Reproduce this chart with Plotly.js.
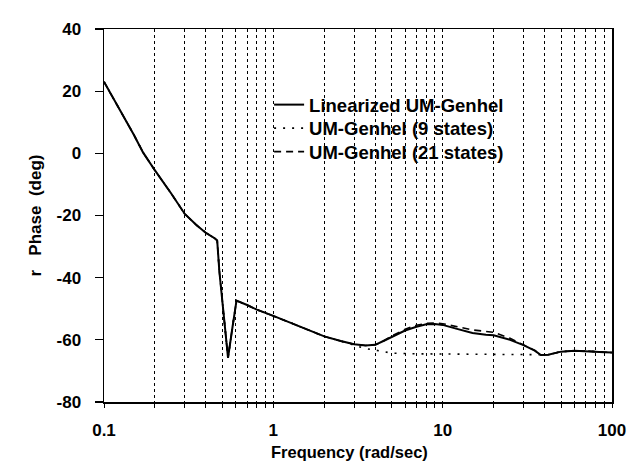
<!DOCTYPE html>
<html>
<head>
<meta charset="utf-8">
<script src="https://cdn.plot.ly/plotly-3.0.1.min.js"></script>
<style>html,body{margin:0;padding:0;background:#fff;}#chart{width:627px;height:462px;}</style>
</head>
<body>
<div id="chart"></div>
<script>
// Linearized UM-Genhel
const freqLin = [0.1, 0.12, 0.15, 0.17, 0.2, 0.25, 0.3, 0.35, 0.4, 0.45, 0.466, 0.48, 0.51, 0.54, 0.57, 0.606, 0.7, 0.8, 1, 1.3, 1.6, 2, 2.5, 3, 3.5, 4, 4.5, 5, 6, 7, 8, 9, 10, 12, 15, 18, 20, 25, 30, 35, 38, 42, 50, 60, 70, 80, 90, 100];
const phaseLin = [23, 15.4, 6, 0.3, -5.5, -13, -19.5, -23, -25.6, -27.3, -28, -38, -52, -65.8, -57, -47.4, -48.8, -50.3, -52.3, -54.8, -56.8, -58.9, -60.4, -61.4, -61.8, -61.6, -60.3, -59, -57, -55.8, -55, -54.9, -55.2, -56.4, -57.8, -58.4, -58.5, -60, -61.7, -63.5, -64.9, -64.8, -63.8, -63.5, -63.6, -63.8, -64, -64.1];

// UM-Genhel (9 states)
const freq9 = [0.1, 0.12, 0.15, 0.17, 0.2, 0.25, 0.3, 0.35, 0.4, 0.45, 0.466, 0.48, 0.51, 0.54, 0.57, 0.606, 0.7, 0.8, 1, 1.3, 1.6, 2, 2.5, 3, 3.5, 4.3, 5, 7, 10, 15, 20, 30, 35, 38, 42, 50, 60, 70, 80, 90, 100];
const phase9 = [23, 15.4, 6, 0.3, -5.5, -13, -19.5, -23, -25.6, -27.3, -28, -38, -52, -65.8, -57, -47.4, -48.8, -50.3, -52.3, -54.8, -56.8, -58.9, -60.4, -61.6, -62.8, -63.6, -64.3, -64.5, -64.6, -64.6, -64.6, -64.7, -64.8, -64.9, -64.8, -63.8, -63.5, -63.6, -63.8, -64, -64.1];

// UM-Genhel (21 states)
const freq21 = [0.1, 0.12, 0.15, 0.17, 0.2, 0.25, 0.3, 0.35, 0.4, 0.45, 0.466, 0.48, 0.51, 0.54, 0.57, 0.606, 0.7, 0.8, 1, 1.3, 1.6, 2, 2.5, 3, 3.5, 4, 4.5, 5, 6, 7, 8, 9, 10, 12, 15, 18, 20, 25, 30, 35, 38, 42, 50, 60, 70, 80, 90, 100];
const phase21 = [23, 15.4, 6, 0.3, -5.5, -13, -19.5, -23, -25.6, -27.3, -28, -38, -52, -65.8, -57, -47.4, -48.8, -50.3, -52.3, -54.8, -56.8, -58.9, -60.4, -61.4, -61.8, -61.6, -60.3, -58.8, -56.6, -55.3, -54.7, -54.6, -54.8, -55.6, -56.8, -57.3, -57.6, -59.5, -61.5, -63.4, -64.9, -64.8, -63.8, -63.5, -63.6, -63.8, -64, -64.1];

const seriesNames = ["Linearized UM-Genhel", "UM-Genhel (9 states)", "UM-Genhel (21 states)"];
const xTitle = "Frequency (rad/sec)";
const yTitle = "r   Phase  (deg)";

// x tick positions (every digit in each decade) and labels
const xTickVals = [0.1,0.2,0.3,0.4,0.5,0.6,0.7,0.8,0.9,1,2,3,4,5,6,7,8,9,10,20,30,40,50,60,70,80,90,100];
const xTickText = ["0.1","","","","","","","","","1","","","","","","","","","10","","","","","","","","","100"];
const yTickVals = [-80, -60, -40, -20, 0, 20, 40];
const yTickText = ["-80", "-60", "-40", "-20", "0", "20", "40"];

const font = "'Liberation Sans', Arial, Helvetica, sans-serif";
const legFont = {family: font, size: 18.5, color: "#000", weight: "bold"};

const traces = [
  {x: freqLin, y: phaseLin, name: seriesNames[0], mode: "lines", legend: "legend",
   line: {color: "#000", width: 2, dash: "solid"}},
  {x: freq9, y: phase9, name: seriesNames[1], mode: "lines", legend: "legend2",
   line: {color: "#000", width: 1.6, dash: "2px,7px"}},
  {x: freq21, y: phase21, name: seriesNames[2], mode: "lines", legend: "legend3",
   line: {color: "#000", width: 1.6, dash: "7px,5px"}}
];

function leg(y) {
  return {x: 0.325, y: y, xanchor: "left", yanchor: "middle", bgcolor: "rgba(0,0,0,0)",
    font: legFont, itemwidth: 30, borderwidth: 0};
}

const layout = {
  width: 627, height: 462,
  margin: {l: 104, r: 15, t: 29, b: 60},
  paper_bgcolor: "#fff", plot_bgcolor: "#fff",
  font: {family: font, color: "#000", size: 17, weight: "bold"},
  showlegend: true,
  legend: leg(0.796),
  legend2: leg(0.733),
  legend3: leg(0.670),
  xaxis: {
    type: "log", range: [-1, 2],
    tickvals: xTickVals, ticktext: xTickText,
    showgrid: true, gridcolor: "#000", griddash: "dot", gridwidth: 1,
    ticks: "outside", ticklen: 4, tickcolor: "#000", tickwidth: 1,
    ticklabelstandoff: 8,
    showline: true, linecolor: "#000", linewidth: 1.5, mirror: true,
    tickfont: {family: font, size: 17, color: "#000", weight: "bold"},
    zeroline: false
  },
  yaxis: {
    range: [-80, 40], tickvals: yTickVals, ticktext: yTickText,
    showgrid: false, zeroline: false,
    ticks: "outside", ticklen: 8, tickcolor: "#000", tickwidth: 1.2,
    ticklabelstandoff: 10,
    showline: true, linecolor: "#000", linewidth: 1.5, mirror: true,
    tickfont: {family: font, size: 17, color: "#000", weight: "bold"},
    title: {text: yTitle, standoff: 10, font: {family: font, size: 17, color: "#000", weight: "bold"}}
  },
  annotations: [{
    text: xTitle, xref: "paper", yref: "paper", x: 0.484, y: 0,
    xanchor: "center", yanchor: "top", yshift: -39, showarrow: false,
    font: {family: font, size: 16.5, color: "#000", weight: "bold"}
  }]
};

Plotly.newPlot("chart", traces, layout, {staticPlot: true, displayModeBar: false});
</script>
</body>
</html>
